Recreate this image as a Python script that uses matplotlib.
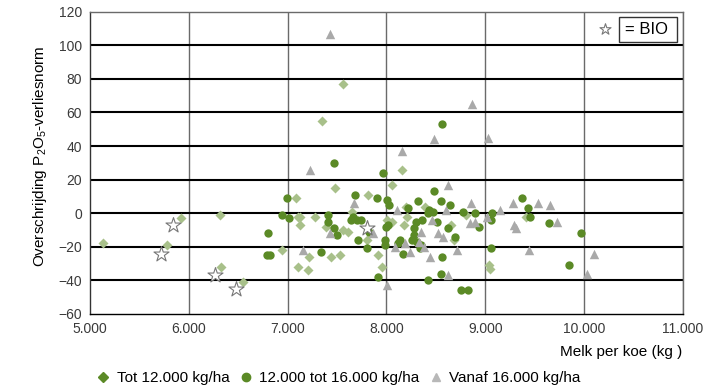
import numpy as np
import matplotlib
matplotlib.use("Agg")
from matplotlib import pyplot as plt
from matplotlib.lines import Line2D
from matplotlib.patches import Rectangle

plt.rcParams['font.family'] = ['Liberation Sans', 'DejaVu Sans']

# Tot 12.000 kg/ha (ruiten)
tot12_x = [5125, 5775, 5920, 6310, 6325, 6550, 6940, 7085, 7105, 7125, 7120, 7105,
           7200, 7215, 7275, 7350, 7390, 7435, 7480, 7530, 7555, 7555, 7615, 7650,
           7800, 7815, 7910, 7950, 8005, 8055, 8055, 8160, 8180, 8200, 8210, 8390,
           8655, 8680, 8805, 9040, 9050, 9415]
tot12_y = [-18, -19, -3, -1, -32, -41, -22, 9, -2, -2, -7, -32,
           -34, -26, -2, 55, -8, -26, 15, -25, 77, -10, -11, 1,
           -16, 11, -25, -32, -4, -5, 17, 26, -7, 4, -2, 4,
           -7, -16, -1, -31, -33, -2]

# 12.000 tot 16.000 kg/ha (bolletjes)
mid_x = [6795, 6785, 6820, 6940, 6995, 7015, 7335, 7410, 7410, 7470, 7470, 7495,
         7640, 7665, 7680, 7700, 7710, 7745, 7805, 7825, 7900, 7910, 7965, 7980,
         7985, 7995, 8005, 8020, 8025, 8120, 8140, 8170, 8220, 8255, 8275, 8280,
         8300, 8305, 8315, 8340, 8350, 8360, 8420, 8425, 8435, 8470, 8480, 8510,
         8550, 8555, 8560, 8560, 8625, 8645, 8695, 8755, 8770, 8830, 8900, 8940,
         9055, 9055, 9065, 9370, 9430, 9450, 9650, 9845, 9970]
mid_y = [-12, -25, -25, -1, 9, -3, -23, -1, -5, -9, 30, -13,
         -4, -2, 11, -4, -16, -4, -21, -11, 9, -38, 24, -16,
         -19, -8, 8, -7, 5, -18, -16, -24, 3, -16, -13, -9,
         -5, -17, 7, -21, -19, -4, -40, 0, 2, 1, 13, -5,
         7, -36, -26, 53, -9, 5, -14, -46, 1, -46, 0, -8,
         -4, -21, 0, 9, 3, -2, -6, -31, -12]

# Vanaf 16.000 kg/ha (driehoekjes)
hoog_x = [7150, 7230, 7430, 7430, 7670, 7860, 8005, 8085, 8110, 8160, 8190, 8240,
          8325, 8350, 8380, 8440, 8460, 8485, 8520, 8575, 8605, 8620, 8620, 8710,
          8845, 8855, 8870, 8900, 9015, 9025, 9150, 9280, 9295, 9315, 9440, 9535,
          9660, 9725, 10035, 10105]
hoog_y = [-22, 26, -12, 107, 6, -12, -43, -20, 2, 37, -18, -23,
          -17, -11, -20, -26, -4, 44, -12, -14, 2, 17, -37, -22,
          -6, 6, 65, -5, -2, 45, 2, 6, -7, -9, -22, 6,
          5, -5, -36, -24]

# BIO-bedrijven (sterren)
bio_x = [5715, 5840, 6265, 6480, 7800]
bio_y = [-24, -7, -37, -45, -9]

c_light = '#a8c08a'
c_dark = '#5b8a26'
c_grey = '#a9a9a9'
c_text = '#3a3a3a'

fig, ax = plt.subplots(figsize=(7.2, 3.91), dpi=100)
fig.subplots_adjust(left=0.1254, right=0.9482, top=0.970, bottom=0.197)

ax.set_xlim(5000, 11000)
ax.set_ylim(-60, 120)
ax.set_xticks(np.arange(5000, 11001, 1000))
ax.set_yticks(np.arange(-60, 121, 20))
ax.set_xticklabels(['{:,}'.format(v).replace(',', '.') for v in range(5000, 11001, 1000)])
ax.tick_params(length=0, labelsize=10, colors=c_text, pad=6)

for v in range(6000, 11001, 1000):
    ax.axvline(v, color='#6a6a6a', lw=1.0, zorder=1)
for v in range(-40, 101, 20):
    ax.axhline(v, color='black', lw=1.5, zorder=1)
ax.spines['top'].set_color('#6a6a6a')
ax.spines['right'].set_color('#6a6a6a')
ax.spines['left'].set_color('#333333')
ax.spines['bottom'].set_color('black')
for s in ax.spines.values():
    s.set_linewidth(1.0)

ax.scatter(tot12_x, tot12_y, marker='D', s=26, color=c_light, lw=0, zorder=3)
ax.scatter(mid_x, mid_y, marker='o', s=36, color=c_dark, lw=0, zorder=3)
ax.scatter(hoog_x, hoog_y, marker='^', s=46, color=c_grey, lw=0, zorder=3)
ax.scatter(bio_x, bio_y, marker='*', s=130, facecolor='white', edgecolor='#777777',
           lw=0.8, zorder=4)

# BIO-legende rechtsboven
ax.scatter([0.869], [0.942], marker='*', s=70, facecolor='white', edgecolor='#777777',
           lw=0.8, transform=ax.transAxes, zorder=5, clip_on=False)
ax.add_patch(Rectangle((0.8925, 0.9015), 0.0985, 0.0795, transform=ax.transAxes,
                       facecolor='white', edgecolor='#333333', lw=1, zorder=5))
ax.text(0.902, 0.940, '= BIO', transform=ax.transAxes, fontsize=12, va='center',
        ha='left', color='black', zorder=6)

fig.text(0.056, 1 - 156 / 391, r'Overschrijding P$\mathregular{_2}$O$\mathregular{_5}$-verliesnorm',
         rotation=90, ha='center', va='center', fontsize=11, color='black')
fig.text(0.948, 1 - 352 / 391, 'Melk per koe (kg )', ha='right', va='center',
         fontsize=11, color='black')

handles = [
    Line2D([], [], ls='none', marker='D', ms=5, color=c_dark),
    Line2D([], [], ls='none', marker='o', ms=6, color=c_dark),
    Line2D([], [], ls='none', marker='^', ms=6, color='#b8b8b8'),
]
labels = ['Tot 12.000 kg/ha', '12.000 tot 16.000 kg/ha', 'Vanaf 16.000 kg/ha']
fig.legend(handles, labels, loc='center', bbox_to_anchor=(0.47, 1 - 378 / 391), ncol=3,
           frameon=False, fontsize=11, handlelength=0.9, handletextpad=0.45,
           columnspacing=0.6)

plt.savefig('out.png', dpi=100)
